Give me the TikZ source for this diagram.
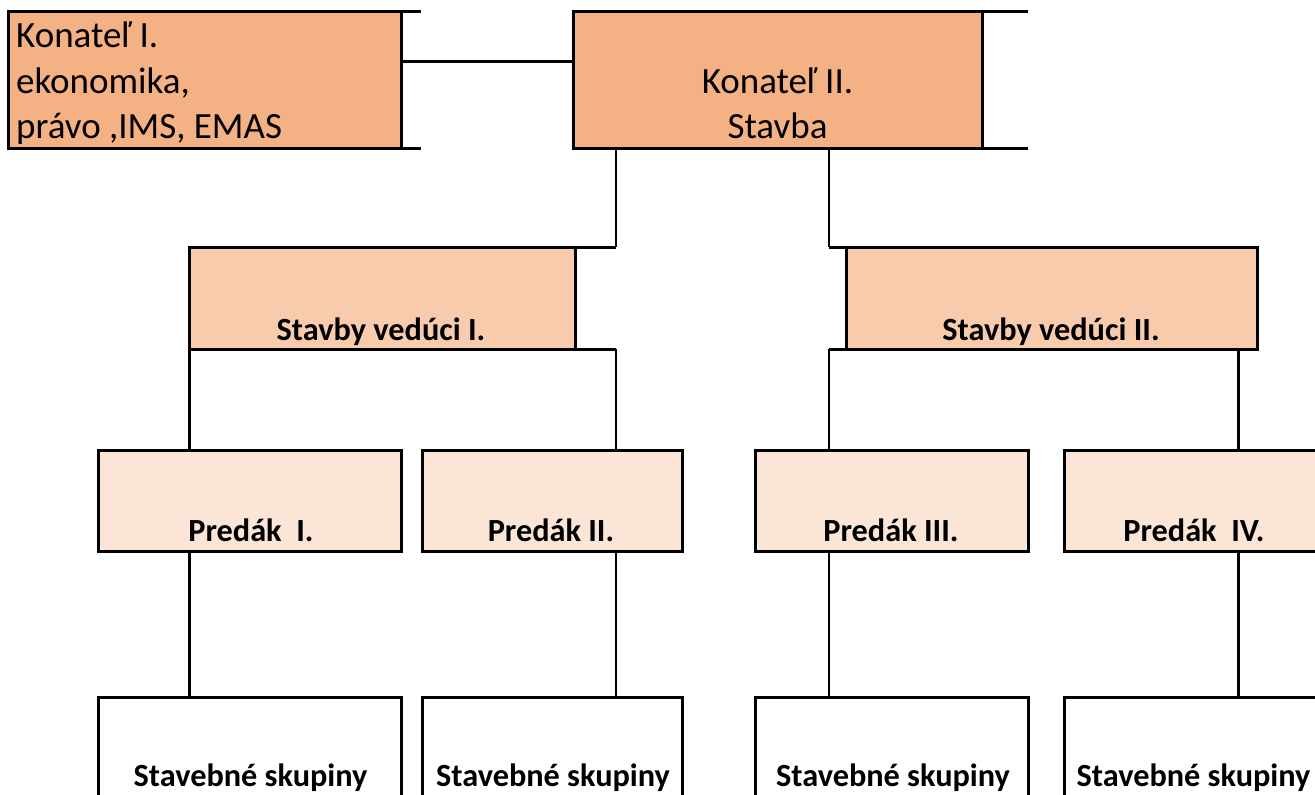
\documentclass[tikz,border=0pt]{standalone}
\usepackage{fontspec}
\setmainfont{Carlito}
\usetikzlibrary{calc}
\definecolor{orA}{HTML}{F4B183}
\definecolor{orB}{HTML}{F8CBAD}
\definecolor{orC}{HTML}{FBE5D6}
\begin{document}
\begin{tikzpicture}[x=1pt,y=-1pt,
  boxfill/.style={anchor=north west,inner sep=0pt,outer sep=0pt,draw=none},
  boxfull/.style={anchor=north west,inner sep=0pt,outer sep=0pt,draw=black,line width=3pt},
  bd/.style={draw=black,line width=3pt},
  conn/.style={draw=black,line width=2.2pt},
  reg/.style={font=\fontsize{37}{44}\selectfont,inner sep=0pt,text=black},
  bld/.style={font=\fontsize{32.3}{38}\selectfont\bfseries,inner sep=0pt,text=black}]
\useasboundingbox (0,0) rectangle (1315,795);
\clip (0,0) rectangle (1315,795);

% boxes
\node[boxfill,fill=orA,minimum width=393pt,minimum height=137pt] (k1) at (8,11) {};
\node[boxfill,fill=orA,minimum width=409pt,minimum height=137pt] (k2) at (573,11) {};
\node[boxfill,fill=orB,minimum width=386pt,minimum height=102pt] (sv1) at (189,247) {};
\node[boxfill,fill=orB,minimum width=411pt,minimum height=102pt] (sv2) at (846,247) {};
\node[boxfull,fill=orC,minimum width=303pt,minimum height=101pt] (p1) at (98,450) {};
\node[boxfull,fill=orC,minimum width=260pt,minimum height=101pt] (p2) at (422,450) {};
\node[boxfull,fill=orC,minimum width=273pt,minimum height=101pt] (p3) at (755,450) {};
\node[boxfull,fill=orC,minimum width=260pt,minimum height=101pt] (p4) at (1064,450) {};
\node[boxfull,fill=white,minimum width=303pt,minimum height=103pt] (s1) at (98,697) {};
\node[boxfull,fill=white,minimum width=260pt,minimum height=103pt] (s2) at (422,697) {};
\node[boxfull,fill=white,minimum width=273pt,minimum height=103pt] (s3) at (755,697) {};
\node[boxfull,fill=white,minimum width=260pt,minimum height=103pt] (s4) at (1064,697) {};

% borders of the table-like boxes
\draw[bd] ($(k1.north east)+(20,0)$) -- (k1.north west) -- (k1.south west) -- ($(k1.south east)+(20,0)$);
\draw[bd] (k1.north east) -- (k1.south east);
\draw[bd] ($(k2.north east)+(46,0)$) -- (k2.north west) -- (k2.south west) -- ($(k2.south east)+(46,0)$);
\draw[bd] (k2.north east) -- (k2.south east);
\draw[bd] ($(sv1.north east)+(41,0)$) -- (sv1.north west) -- (sv1.south west) -- ($(sv1.south east)+(41,0)$);
\draw[bd] (sv1.north east) -- (sv1.south east);
\draw[bd] ($(sv2.north west)+(-17,0)$) -- (sv2.north east) -- (sv2.south east) -- ($(sv2.south west)+(-17,0)$);
\draw[bd] (sv2.north west) -- (sv2.south west);

% connector reference coordinates
\coordinate (ytop) at (0,61);
\coordinate (xa) at (616,0);
\coordinate (xb) at (829,0);
\coordinate (xc) at (189.5,0);
\coordinate (xd) at (1238.5,0);

% connectors
\draw[bd] (k1.east |- ytop) -- (k2.west |- ytop);
\draw[conn] (k2.south -| xa) -- (sv1.north -| xa);
\draw[conn] (k2.south -| xb) -- (sv2.north -| xb);
\draw[conn] (sv1.south -| xc) -- (p1.north -| xc);
\draw[conn] (sv1.south -| xa) -- (p2.north -| xa);
\draw[conn] (sv2.south -| xb) -- (p3.north -| xb);
\draw[conn] (sv2.south -| xd) -- (p4.north -| xd);
\draw[conn] (p1.south -| xc) -- (s1.north -| xc);
\draw[conn] (p2.south -| xa) -- (s2.north -| xa);
\draw[conn] (p3.south -| xb) -- (s3.north -| xb);
\draw[conn] (p4.south -| xd) -- (s4.north -| xd);

% texts
\node[reg,anchor=base west] (k1a) at (16,47) {Konateľ I.};
\node[reg,anchor=base west] (k1b) at (16,93) {ekonomika,};
\node[reg,anchor=base west] (k1c) at (16,138.5) {právo ,IMS, EMAS};
\node[reg,anchor=base] (k2a) at (777.5,93) {Konateľ II.};
\node[reg,anchor=base] (k2b) at (777.5,138.5) {Stavba};
\node[bld,anchor=base] (sv1t) at (381,340) {Stavby vedúci I.};
\node[bld,anchor=base] (sv2t) at (1051,340) {Stavby vedúci II.};
\node[bld,anchor=base] (p1t) at (251,541) {Predák\ \ I.};
\node[bld,anchor=base] (p2t) at (551,541) {Predák II.};
\node[bld,anchor=base] (p3t) at (891,541) {Predák III.};
\node[bld,anchor=base] (p4t) at (1194,541) {Predák\ \ IV.};
\node[bld,anchor=base] (s1t) at (250.5,786) {Stavebné skupiny};
\node[bld,anchor=base] (s2t) at (553,786) {Stavebné skupiny};
\node[bld,anchor=base] (s3t) at (893,786) {Stavebné skupiny};
\node[bld,anchor=base] (s4t) at (1193.5,786) {Stavebné skupiny};
\end{tikzpicture}
\end{document}
